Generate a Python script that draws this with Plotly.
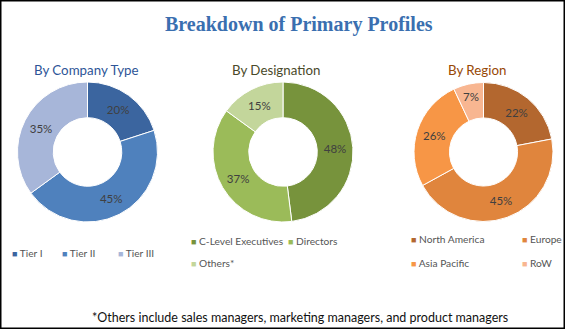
import plotly.graph_objects as go

# Survey breakdown data
company_labels = ["Tier I", "Tier II", "Tier III"]
company_values = [20, 45, 35]
company_colors = ["#3b659f", "#4f81bd", "#a7b6d9"]

designation_labels = ["C-Level Executives", "Directors", "Others*"]
designation_values = [48, 37, 15]
designation_colors = ["#77933c", "#9bbb59", "#c3d69b"]

region_labels = ["North America", "Europe", "Asia Pacific", "RoW"]
region_values = [22, 45, 26, 7]
region_colors = ["#b3672f", "#e0853d", "#f79646", "#f8b691"]

W, H = 565, 329
TEXT_FONT = "Lato, Open Sans, sans-serif"


def px(x0, x1):
    return [x0 / W, x1 / W]


def py(top, bottom):
    return [1 - bottom / H, 1 - top / H]


fig = go.Figure()

pies = [
    (company_labels, company_values, company_colors, px(17, 158)),
    (designation_labels, designation_values, designation_colors, px(213, 353)),
    (region_labels, region_values, region_colors, px(414, 553)),
]
for labels, values, colors, dx in pies:
    fig.add_trace(go.Pie(
        labels=labels,
        values=values,
        hole=0.49,
        sort=False,
        direction="clockwise",
        rotation=0,
        marker=dict(colors=colors, line=dict(color="white", width=1)),
        texttemplate="%{value}%",
        textposition="inside",
        insidetextorientation="horizontal",
        textfont=dict(family=TEXT_FONT, size=11.5, color="#404040"),
        domain=dict(x=dx, y=py(82, 222)),
        showlegend=False,
        hoverinfo="label+percent",
    ))

annotations = [
    dict(text="<b>Breakdown of Primary Profiles</b>", x=299 / W, y=1 - 25 / H,
         font=dict(family="Liberation Serif, serif", size=20, color="#3a6fb0")),
    dict(text="By Company Type", x=86 / W, y=1 - 70 / H,
         font=dict(family=TEXT_FONT, size=13.3, color="#2e5597")),
    dict(text="By Designation", x=276 / W, y=1 - 70 / H,
         font=dict(family=TEXT_FONT, size=13.3, color="#4a4a2a")),
    dict(text="By Region", x=477 / W, y=1 - 70 / H,
         font=dict(family=TEXT_FONT, size=13.3, color="#974806")),
    dict(text="*Others include sales managers, marketing managers, and product managers",
         x=300 / W, y=1 - 317 / H,
         font=dict(family=TEXT_FONT, size=12.5, color="#111111")),
]

# Legend entries: (label, colour, left x, centre y)
legend_entries = [
    (company_labels[0], company_colors[0], 10, 253),
    (company_labels[1], company_colors[1], 60, 253),
    (company_labels[2], company_colors[2], 116, 253),
    (designation_labels[0], designation_colors[0], 189, 241),
    (designation_labels[1], designation_colors[1], 286, 241),
    (designation_labels[2], designation_colors[2], 189, 263),
    (region_labels[0], region_colors[0], 409, 239),
    (region_labels[1], region_colors[1], 520, 239),
    (region_labels[2], region_colors[2], 409, 263),
    (region_labels[3], region_colors[3], 520, 263),
]
for label, color, lx, ly in legend_entries:
    annotations.append(dict(
        text=f"<span style='color:{color}; font-size:9px'>■</span> {label}",
        x=lx / W, y=1 - ly / H, xanchor="left",
        font=dict(family=TEXT_FONT, size=10.2, color="#555555"),
    ))

for a in annotations:
    a.setdefault("xanchor", "center")
    a.update(xref="paper", yref="paper", yanchor="middle", showarrow=False)

fig.update_layout(
    width=W, height=H,
    margin=dict(l=0, r=0, t=0, b=0),
    paper_bgcolor="white",
    plot_bgcolor="white",
    annotations=annotations,
    shapes=[dict(type="rect", xref="paper", yref="paper", x0=0, y0=0, x1=1, y1=1,
                 line=dict(color="black", width=3))],
)

fig.write_html("out.html")
